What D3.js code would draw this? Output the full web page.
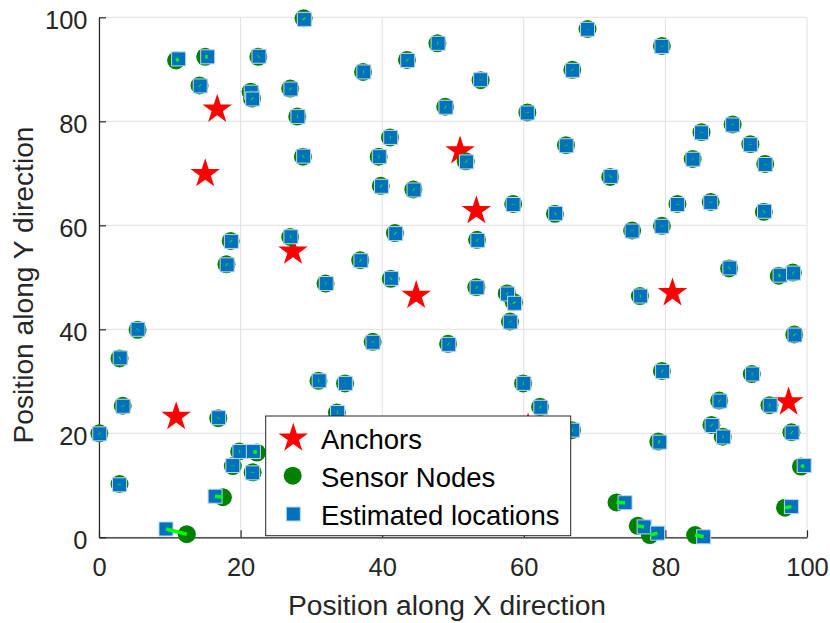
<!DOCTYPE html>
<html>
<head>
<meta charset="utf-8">
<script src="https://cdn.jsdelivr.net/npm/d3@7"></script>
<style>
  html, body { margin: 0; padding: 0; background: #fff; }
  svg text { font-family: "Liberation Sans", Arial, Helvetica, sans-serif; }
</style>
</head>
<body>
<svg id="chart" width="830" height="623"></svg>
<script>
// ---- data ----
const anchorX = [16.7, 15.0, 27.4, 51.0, 53.3, 44.8, 81.0, 97.4, 10.9, 60.6];
const anchorY = [82.3, 69.9, 55.0, 74.3, 62.8, 46.5, 47.0, 26.0, 23.2, 21.0];

const nodeX = [10.9, 15.0, 22.5, 28.9, 14.2, 21.4, 21.6, 27.0, 28.0, 37.3, 43.5, 47.8, 48.9, 41.1, 39.5, 28.8, 39.8, 44.4, 41.8, 18.6,
               27.0, 18.0, 36.9, 32.0, 41.2, 51.8, 53.4, 53.9, 60.5, 69.0, 79.5, 66.85, 65.96, 72.2, 64.4, 58.5, 75.3, 79.5, 81.7, 86.4,
               93.9, 83.85, 85.1, 89.5, 92.0, 94.1, 89.0, 96.0, 98.0, 5.45, 2.9, 3.35, 16.85, 0.05, 19.8, 22.3, 18.9, 21.7, 2.9, 17.5,
               12.4, 38.65, 49.3, 31.0, 34.75, 33.6, 53.3, 57.6, 58.6, 58.05, 76.4, 98.2, 79.5, 92.2, 87.6, 94.7, 59.9, 62.3, 66.8, 86.5,
               88.1, 97.8, 79.0, 99.15, 73.1, 96.9, 76.1, 77.8, 84.2];
const nodeY = [91.7, 92.4, 92.4, 99.8, 86.9, 85.7, 84.4, 86.3, 80.9, 89.5, 91.8, 95.0, 82.8, 76.9, 73.2, 73.2, 67.6, 66.9, 58.5, 57.0,
               57.75, 52.5, 53.3, 48.8, 49.7, 72.3, 57.2, 87.9, 81.7, 97.75, 94.5, 89.9, 75.4, 69.3, 62.2, 64.1, 59.0, 59.9, 64.1, 64.5,
               62.6, 72.75, 77.9, 79.4, 75.6, 71.8, 51.7, 50.3, 50.9, 39.9, 34.4, 25.3, 22.9, 20.0, 16.5, 16.3, 13.7, 12.5, 10.25, 7.7,
               0.6, 37.6, 37.2, 30.1, 29.6, 24.0, 48.1, 46.9, 45.2, 41.5, 46.4, 39.0, 32.0, 31.4, 26.3, 25.4, 29.6, 25.1, 20.6, 21.6,
               19.35, 20.2, 18.4, 13.6, 6.7, 5.7, 2.2, 0.44, 0.44];
const estX = [11.25, 15.35, 22.6, 29.0, 14.3, 21.5, 21.7, 27.1, 28.1, 37.4, 43.6, 47.9, 49.0, 41.2, 39.6, 28.9, 39.9, 44.5, 41.9, 18.7,
              27.1, 18.1, 37.0, 32.1, 41.3, 51.9, 53.5, 53.9, 60.5, 69.0, 79.5, 66.9, 66.0, 72.3, 64.5, 58.5, 75.3, 79.5, 81.7, 86.4,
              94.0, 83.9, 85.1, 89.5, 92.0, 94.1, 89.1, 96.2, 98.1, 5.5, 3.0, 3.4, 16.9, 0.1, 19.9, 21.8, 18.9, 21.7, 2.9, 16.4,
              9.46, 38.7, 49.4, 31.1, 34.8, 33.7, 53.4, 57.7, 58.7, 58.1, 76.5, 98.3, 79.6, 92.3, 87.7, 94.8, 60.0, 62.4, 66.9, 86.6,
              88.2, 97.9, 79.2, 99.6, 74.3, 97.8, 77.0, 78.9, 85.4];
const estY = [92.0, 92.4, 92.5, 99.6, 86.8, 85.6, 84.3, 86.2, 80.9, 89.5, 91.7, 95.0, 82.7, 76.9, 73.2, 73.3, 67.5, 66.8, 58.4, 56.9,
              57.8, 52.4, 53.2, 48.8, 49.8, 72.2, 57.1, 88.0, 81.6, 97.7, 94.4, 89.8, 75.3, 69.4, 62.3, 64.0, 58.9, 59.8, 64.0, 64.4,
              62.7, 72.7, 77.8, 79.3, 75.5, 71.7, 51.8, 50.4, 50.8, 40.0, 34.5, 25.2, 23.0, 19.9, 16.5, 16.5, 13.8, 12.4, 10.1, 7.9,
              1.6, 37.5, 37.1, 30.1, 29.6, 24.0, 48.0, 46.8, 45.0, 41.4, 46.4, 38.9, 31.9, 31.4, 26.2, 25.4, 29.6, 25.0, 20.6, 21.5,
              19.3, 20.1, 18.3, 13.8, 6.65, 5.9, 2.0, 0.8, 0.1];

const xTicks = [0, 20, 40, 60, 80, 100];
const yTicks = [0, 20, 40, 60, 80, 100];
const legendLabels = ["Anchors", "Sensor Nodes", "Estimated locations"];

// ---- layout ----
const svg = d3.select("#chart");
const pLeft = 99, pRight = 807, pTop = 17.3, pBottom = 537.3;
const x = d3.scaleLinear().domain([0, 100]).range([pLeft, pRight]);
const y = d3.scaleLinear().domain([0, 100]).range([pBottom, pTop]);
const axisColor = "#262626";
const gridColor = "#e0e0e0";

// grid
const grid = svg.append("g");
grid.selectAll("line.gx").data(xTicks).enter().append("line")
  .attr("x1", d => x(d)).attr("x2", d => x(d)).attr("y1", pTop).attr("y2", pBottom)
  .attr("stroke", gridColor).attr("stroke-width", 1);
grid.selectAll("line.gy").data(yTicks).enter().append("line")
  .attr("y1", d => y(d)).attr("y2", d => y(d)).attr("x1", pLeft).attr("x2", pRight)
  .attr("stroke", gridColor).attr("stroke-width", 1);

// axes (MATLAB style: inward ticks)
const xAxis = d3.axisBottom(x).tickValues(xTicks).tickSizeInner(-7).tickSizeOuter(0).tickPadding(0).tickFormat(d3.format("d"));
const yAxis = d3.axisLeft(y).tickValues(yTicks).tickSizeInner(-7).tickSizeOuter(0).tickPadding(0).tickFormat(d3.format("d"));

const gx = svg.append("g").attr("transform", `translate(0,${pBottom})`).call(xAxis);
const gy = svg.append("g").attr("transform", `translate(${pLeft},0)`).call(yAxis);
[gx, gy].forEach(g => {
  g.select(".domain").attr("stroke", axisColor).attr("stroke-width", 1.2);
  g.selectAll(".tick line").attr("stroke", axisColor).attr("stroke-width", 1.2);
  g.selectAll(".tick text").attr("fill", axisColor).attr("font-size", 25.5)
    .attr("font-family", "'Liberation Sans', Arial, Helvetica, sans-serif");
});
gx.selectAll(".tick text").attr("y", 39.2).attr("dy", 0).attr("text-anchor", "middle");
gy.selectAll(".tick text").attr("x", -11.5).attr("dy", 0).attr("y", 11.5).attr("text-anchor", "end");

// axis labels
svg.append("text").attr("x", 447).attr("y", 614.5).attr("text-anchor", "middle")
  .attr("font-size", 28.2).attr("fill", axisColor).text("Position along X direction");
svg.append("text").attr("transform", "translate(33.3,285) rotate(-90)").attr("text-anchor", "middle")
  .attr("font-size", 28.2).attr("fill", axisColor).text("Position along Y direction");

// marks
const starPath = d3.symbol().type(d3.symbolStar).size(270)();
const anchors = anchorX.map((v, i) => ({ x: v, y: anchorY[i] }));
const nodes = nodeX.map((v, i) => ({ x: v, y: nodeY[i], ex: estX[i], ey: estY[i] }));

svg.append("g").selectAll("path").data(anchors).enter().append("path")
  .attr("d", starPath).attr("transform", d => `translate(${x(d.x)},${y(d.y)})`)
  .attr("fill", "#ff0000");

svg.append("g").selectAll("circle").data(nodes).enter().append("circle")
  .attr("cx", d => x(d.x)).attr("cy", d => y(d.y)).attr("r", 9)
  .attr("fill", "#008000");

const sq = 14;
svg.append("g").selectAll("rect").data(nodes).enter().append("rect")
  .attr("x", d => x(d.ex) - sq / 2).attr("y", d => y(d.ey) - sq / 2)
  .attr("width", sq).attr("height", sq)
  .attr("fill", "#0072BD").attr("stroke", "#bcd6ec").attr("stroke-width", 1);

svg.append("g").selectAll("line").data(nodes).enter().append("line")
  .attr("x1", d => x(d.x)).attr("y1", d => y(d.y)).attr("x2", d => x(d.ex)).attr("y2", d => y(d.ey))
  .attr("stroke", "#00ff00").attr("stroke-width", 3.5);

// legend
const lg = svg.append("g");
lg.append("rect").attr("x", 265.7).attr("y", 416).attr("width", 305).attr("height", 119.7)
  .attr("fill", "#fff").attr("stroke", axisColor).attr("stroke-width", 1);
lg.append("path").attr("d", starPath).attr("transform", "translate(293.3,438.2)").attr("fill", "#ff0000");
lg.append("circle").attr("cx", 292.7).attr("cy", 475.7).attr("r", 9).attr("fill", "#008000");
lg.append("rect").attr("x", 293.3 - 7).attr("y", 514 - 7).attr("width", 14).attr("height", 14)
  .attr("fill", "#0072BD").attr("stroke", "#bcd6ec").attr("stroke-width", 1);
const baselines = [449.3, 486.7, 525];
lg.selectAll("text.lt").data(legendLabels).enter().append("text")
  .attr("x", 321).attr("y", (d, i) => baselines[i]).attr("font-size", 27.5).attr("fill", "#000")
  .text(d => d);
</script>
</body>
</html>
